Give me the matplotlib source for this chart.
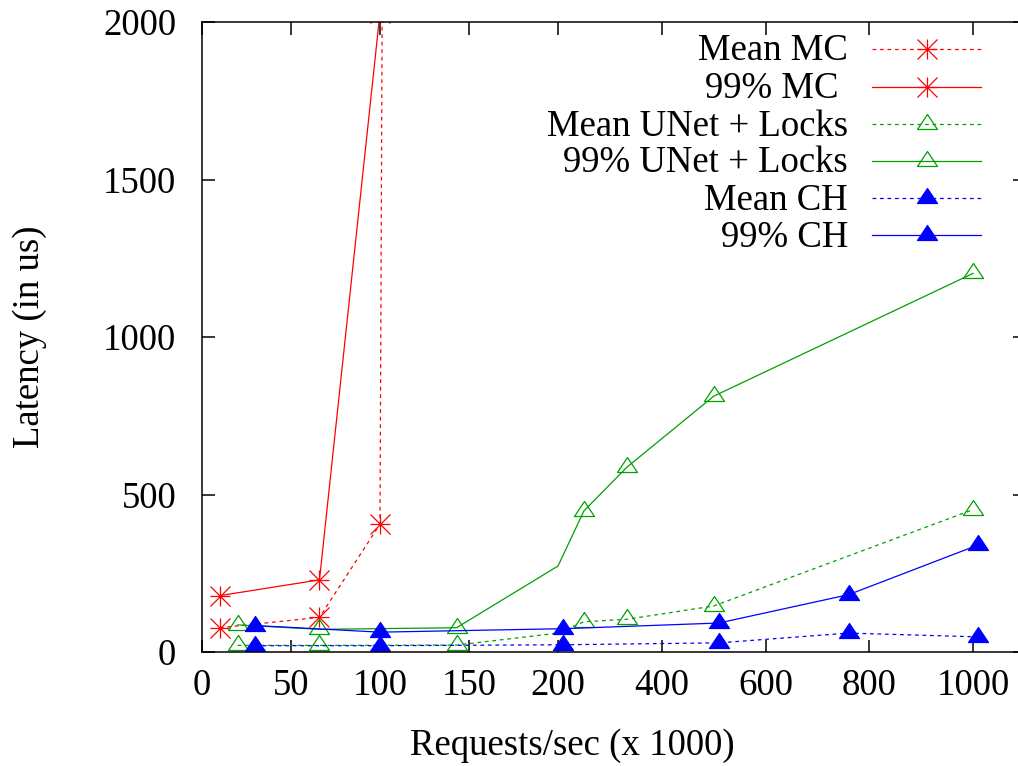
import matplotlib
matplotlib.use("Agg")
import matplotlib.pyplot as plt
import numpy as np
from matplotlib.lines import Line2D
from matplotlib.path import Path

# ---- data ----
mc_mean_x = [10, 66, 100, 102]
mc_mean_y = [77, 110, 406, 3100]
mc_p99_x = [10, 66, 100]
mc_p99_y = [179, 229, 2030]

unet_x = [20, 66, 143, 200, 250, 333, 500, 1000]
unet_mean_y = [21, 21, 22, 60, 96, 104, 146, 452]
unet_p99_y = [86, 72, 77, 273, 448, 587, 812, 1202]
unet_marked = [0, 1, 2, 4, 5, 6, 7]

ch_x = [30, 100, 210, 510, 760, 1010]
ch_mean_y = [20, 20, 23, 29, 60, 48]
ch_p99_y = [84, 63, 74, 92, 182, 340]

xticks = [0, 50, 100, 150, 200, 400, 600, 800, 1000]
yticks = [0, 500, 1000, 1500, 2000]

labels = ["Mean MC", "99% MC ", "Mean UNet + Locks", "99% UNet + Locks", "Mean CH", "99% CH"]

RED = "#ff0000"
GREEN = "#00a000"
BLUE = "#0000ff"

plt.rcParams['font.family'] = ['Liberation Serif', 'DejaVu Serif']
FS = 26.5

W, H = 1018, 766
fig = plt.figure(figsize=(W / 100, H / 100), dpi=100)
ax = fig.add_axes([202 / W, 1 - 652 / H, (1025 - 202) / W, 630 / H])

K = 0.2915
def fwd(x):
    x = np.asarray(x, dtype=float)
    return np.where(x <= 200, x, 200 + (x - 200) * K)
def inv(u):
    u = np.asarray(u, dtype=float)
    return np.where(u <= 200, u, 200 + (u - 200) / K)
ax.set_xscale('function', functions=(fwd, inv))

tri = Path([(0, 2), (-2, -1), (2, -1), (0, 2)],
           [Path.MOVETO, Path.LINETO, Path.LINETO, Path.CLOSEPOLY])
star = Path([(-1, 0), (1, 0), (0, -1), (0, 1), (-1, -1), (1, 1), (-1, 1), (1, -1)],
            [Path.MOVETO, Path.LINETO] * 4)
LW = 0.9
DASH = (0, (3, 3))

styles = [
    dict(color=RED, ls=DASH, marker=star, ms=14.4, mew=LW, mfc=RED),
    dict(color=RED, ls='-', marker=star, ms=14.4, mew=LW, mfc=RED),
    dict(color=GREEN, ls=DASH, marker=tri, ms=14.4, mew=LW, mfc='none'),
    dict(color=GREEN, ls='-', marker=tri, ms=14.4, mew=LW, mfc='none'),
    dict(color=BLUE, ls=DASH, marker=tri, ms=14.4, mew=LW, mfc=BLUE),
    dict(color=BLUE, ls='-', marker=tri, ms=14.4, mew=LW, mfc=BLUE),
]

ax.plot(mc_mean_x, mc_mean_y, lw=LW, **styles[0])
ax.plot(mc_p99_x, mc_p99_y, lw=LW, **styles[1])
ax.plot(unet_x, unet_mean_y, lw=LW, markevery=unet_marked, **styles[2])
ax.plot(unet_x, unet_p99_y, lw=LW, markevery=unet_marked, **styles[3])
ax.plot(ch_x, ch_mean_y, lw=LW, **styles[4])
ax.plot(ch_x, ch_p99_y, lw=LW, **styles[5])

ax.set_xlim(0, 1100)
ax.set_ylim(0, 2000)
ax.set_xticks(xticks)
ax.set_xticklabels([str(t) for t in xticks])
ax.set_yticks(yticks)
ax.set_yticklabels([str(t) for t in yticks])
ax.minorticks_off()
ax.tick_params(axis='x', which='both', direction='in', length=9, width=1.1,
               top=True, bottom=True, labelsize=FS, pad=12)
ax.tick_params(axis='y', which='both', direction='in', length=9, width=1.1,
               left=True, right=True, labelsize=FS, pad=18.5)
for s in ax.spines.values():
    s.set_linewidth(1.1)

ax.set_xlabel("Requests/sec (x 1000)", fontsize=FS, va='baseline')
ax.set_ylabel("Latency (in us)", fontsize=FS)
ax.xaxis.set_label_coords((572 - 202) / 823, (652 - 755) / 630)
ax.yaxis.set_label_coords((47 - 202) / 823, 0.5)

# ---- legend (gnuplot-style, text right aligned) ----
rows = [49, 87, 124, 161, 198, 235]
for lab, st, yy in zip(labels, styles, rows):
    yf = 1 - yy / H
    fig.add_artist(Line2D([872 / W, 981 / W], [yf, yf], transform=fig.transFigure,
                          color=st['color'], ls=st['ls'], lw=LW))
    fig.add_artist(Line2D([927 / W], [yf], transform=fig.transFigure, ls='none',
                          marker=st['marker'], ms=st['ms'], mew=LW,
                          mec=st['color'], mfc=st['mfc']))
    fig.text(848 / W, 1 - (yy + 11.5) / H, lab, ha='right', va='baseline', fontsize=FS)

fig.savefig("out.png", dpi=100)
